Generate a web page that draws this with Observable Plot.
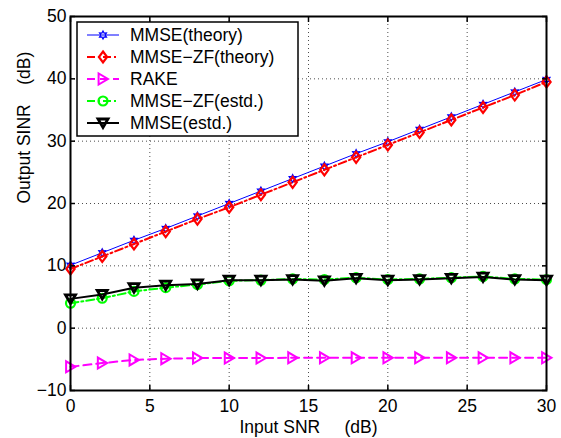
<!DOCTYPE html>
<html>
<head>
<meta charset="utf-8">
<script src="https://cdn.jsdelivr.net/npm/d3@7"></script>
<script src="https://cdn.jsdelivr.net/npm/@observablehq/plot@0.6"></script>
<style>
  html, body { margin: 0; padding: 0; background: #fff; }
  #chart { width: 561px; height: 438px; }
</style>
</head>
<body>
<div id="chart"></div>
<script>
// ---- data ----
const snr = [0, 2, 4, 6, 8, 10, 12, 14, 16, 18, 20, 22, 24, 26, 28, 30];
const mmseTheory = [10.1, 12.1, 14.1, 16.0, 18.0, 20.0, 22.0, 24.0, 26.0, 28.0, 29.9, 31.9, 33.9, 35.9, 37.9, 39.9];
const zfTheory = [9.5, 11.5, 13.5, 15.5, 17.5, 19.4, 21.4, 23.4, 25.4, 27.4, 29.4, 31.4, 33.4, 35.4, 37.4, 39.5];
const rake = [-6.2, -5.6, -5.1, -4.9, -4.8, -4.8, -4.8, -4.75, -4.75, -4.75, -4.75, -4.75, -4.75, -4.75, -4.75, -4.75];
const zfEst = [4.0, 4.8, 5.9, 6.5, 7.0, 7.6, 7.7, 7.9, 7.8, 8.1, 7.8, 7.9, 8.1, 8.3, 7.9, 7.8];
const mmseEst = [4.7, 5.4, 6.5, 6.9, 7.1, 7.7, 7.7, 7.8, 7.6, 8.0, 7.7, 7.8, 8.0, 8.2, 7.8, 7.7];
const seriesNames = ["MMSE(theory)", "MMSE\u2212ZF(theory)", "RAKE", "MMSE\u2212ZF(estd.)", "MMSE(estd.)"];
const xTicks = [0, 5, 10, 15, 20, 25, 30];
const yTicks = [-10, 0, 10, 20, 30, 40, 50];
const xLabel = "Input SNR\u00a0\u00a0\u00a0\u00a0\u00a0(dB)";
const yLabel = "Output SINR\u00a0\u00a0\u00a0\u00a0(dB)";

// ---- custom marker symbols ----
const rad = (size) => Math.sqrt(size / Math.PI);
const symTriDown = { draw(c, size) { const r = rad(size); c.moveTo(-r, -0.8 * r); c.lineTo(r, -0.8 * r); c.lineTo(0, 0.9 * r); c.closePath(); } };
const symTriRight = { draw(c, size) { const r = rad(size); c.moveTo(-0.8 * r, -r); c.lineTo(-0.8 * r, r); c.lineTo(0.9 * r, 0); c.closePath(); } };
const symDiamond = { draw(c, size) { const r = rad(size); c.moveTo(0, -r); c.lineTo(0.75 * r, 0); c.lineTo(0, r); c.lineTo(-0.75 * r, 0); c.closePath(); } };
const symHex = { draw(c, size) {
  const R = rad(size), ri = R * 0.55;
  for (let i = 0; i < 12; i++) {
    const a = -Math.PI / 2 + i * Math.PI / 6, rr = i % 2 ? ri : R;
    const px = rr * Math.cos(a), py = rr * Math.sin(a);
    i ? c.lineTo(px, py) : c.moveTo(px, py);
  }
  c.closePath();
} };

const styles = [
  { name: seriesNames[0], values: mmseTheory, color: "#0000ff", width: 1, dash: null, symbol: symHex, r: 4, sw: 1.2 },
  { name: seriesNames[1], values: zfTheory, color: "#ff0000", width: 2, dash: "8,3,2,3", symbol: symDiamond, r: 5.5, sw: 2.2 },
  { name: seriesNames[2], values: rake, color: "#ff00ff", width: 2, dash: "8,5", symbol: symTriRight, r: 5.5, sw: 2 },
  { name: seriesNames[3], values: zfEst, color: "#00ff00", width: 2, dash: "8,3,2,3", symbol: "circle", r: 4.5, sw: 2.2 },
  { name: seriesNames[4], values: mmseEst, color: "#000000", width: 2, dash: null, symbol: symTriDown, r: 5, sw: 2.8 }
];

const marks = [
  Plot.gridX(xTicks, { stroke: "#000", strokeOpacity: 0.7, strokeDasharray: "1,3", strokeWidth: 1 }),
  Plot.gridY(yTicks, { stroke: "#000", strokeOpacity: 0.7, strokeDasharray: "1,3", strokeWidth: 1 })
];
for (const s of styles) {
  const rows = snr.map((x, i) => ({ x, y: s.values[i] }));
  marks.push(Plot.line(rows, { x: "x", y: "y", stroke: s.color, strokeWidth: s.width, strokeDasharray: s.dash }));
  marks.push(Plot.dot(rows, { x: "x", y: "y", stroke: s.color, fill: "none", strokeWidth: s.sw, r: s.r, symbol: s.symbol }));
}
marks.push(
  Plot.axisX({ ticks: xTicks, tickSize: -5, tickPadding: 14, label: null, strokeWidth: 1.5 }),
  Plot.axisX({ anchor: "top", ticks: xTicks, tickSize: -5, tickFormat: () => "", label: null, strokeWidth: 1.5 }),
  Plot.axisY({ ticks: yTicks, tickSize: -5, tickPadding: 9, label: null, strokeWidth: 1.5 }),
  Plot.axisY({ anchor: "right", ticks: yTicks, tickSize: -5, tickFormat: () => "", label: null, strokeWidth: 1.5 }),
  Plot.frame({ stroke: "#000", strokeWidth: 2 }),
  Plot.text([xLabel], { text: d => d, frameAnchor: "bottom", dy: 42, fill: "#000" }),
  Plot.text([yLabel], { text: d => d, frameAnchor: "left", dx: -46, rotate: -90, fill: "#000" })
);

const chart = Plot.plot({
  width: 561,
  height: 438,
  marginLeft: 70,
  marginRight: 15,
  marginTop: 16,
  marginBottom: 48,
  x: { domain: [0, 30] },
  y: { domain: [-10, 50] },
  style: { fontFamily: "'Liberation Sans', Arial, sans-serif", fontSize: "17.5px", color: "#000", background: "#fff" },
  marks
});

// ---- legend inside the frame (upper-left) ----
const xs = chart.scale("x"), ys = chart.scale("y");
const fx0 = xs.apply(0), fy0 = ys.apply(50);
const svg = d3.select(chart);
const lg = svg.append("g").attr("font-family", "'Liberation Sans', Arial, sans-serif").attr("font-size", "17.5px").attr("text-anchor", "start");
lg.append("rect").attr("x", fx0 + 7).attr("y", fy0 + 6).attr("width", 221).attr("height", 114)
  .attr("fill", "#fff").attr("stroke", "#000").attr("stroke-width", 1.5);
styles.forEach((s, i) => {
  const cy = fy0 + 19 + i * 22;
  lg.append("line").attr("x1", fx0 + 17).attr("x2", fx0 + 49).attr("y1", cy).attr("y2", cy)
    .attr("stroke", s.color).attr("stroke-width", s.width).attr("stroke-dasharray", s.dash);
  const symType = s.symbol === "circle" ? d3.symbolCircle : s.symbol;
  lg.append("path").attr("d", d3.symbol(symType, Math.PI * s.r * s.r)())
    .attr("transform", `translate(${fx0 + 33},${cy})`)
    .attr("fill", "none").attr("stroke", s.color).attr("stroke-width", s.sw);
  lg.append("text").attr("x", fx0 + 60).attr("y", cy).attr("dy", "0.35em").attr("text-anchor", "start").attr("fill", "#000").text(s.name);
});

document.getElementById("chart").appendChild(chart);
</script>
</body>
</html>
